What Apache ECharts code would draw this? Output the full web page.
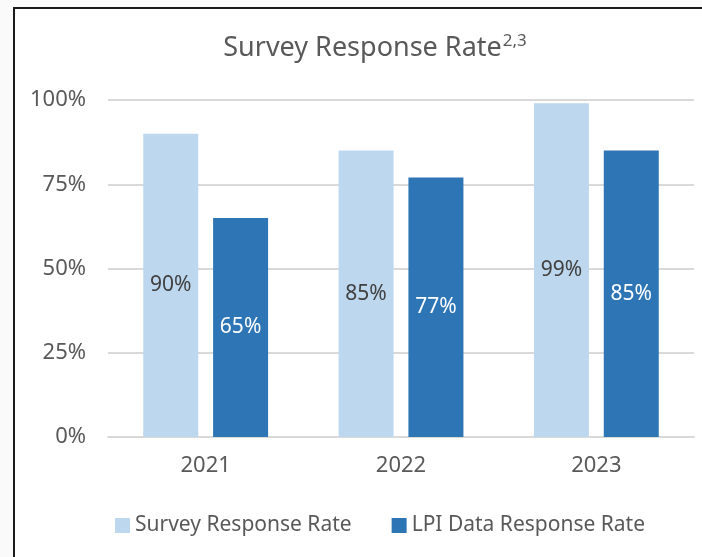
<!DOCTYPE html>
<html>
<head>
<meta charset="utf-8">
<script src="https://cdn.jsdelivr.net/npm/echarts@6/dist/echarts.min.js"></script>
<style>
  html, body { margin: 0; padding: 0; background: #fafafa; }
  .frame {
    position: absolute; left: 13px; top: 7px; width: 700px; height: 560px;
    background: #fff; border-left: 2px solid #1a1a1a; border-top: 2px solid #1a1a1a;
  }
  #chart { position: absolute; left: 0; top: 0; width: 702px; height: 557px; }
</style>
</head>
<body>
<div class="frame"></div>
<div id="chart"></div>
<script>
// data
const years = ['2021', '2022', '2023'];
const surveyRate = [90, 85, 99];
const lpiRate = [65, 77, 85];
const seriesNames = ['Survey Response Rate', 'LPI Data Response Rate'];

const font = 'Noto Sans';
const textColor = '#595959';

const chart = echarts.init(document.getElementById('chart'));

chart.setOption({
  backgroundColor: 'transparent',
  textStyle: { fontFamily: font },
  title: {
    text: '{a|Survey Response Rate}{b|2,3}',
    left: 370,
    textAlign: 'center',
    top: 28,
    textStyle: {
      rich: {
        a: { fontFamily: font, fontSize: 27, fontWeight: 'normal', color: textColor },
        b: { fontFamily: font, fontSize: 17, fontWeight: 'normal', color: textColor, padding: [0, 0, 13, 1] },
      },
    },
  },
  legend: {
    data: seriesNames,
    left: 110,
    top: 510,
    itemWidth: 15,
    itemHeight: 15,
    itemGap: 40,
    icon: 'rect',
    textStyle: { fontFamily: font, fontSize: 21, color: textColor },
  },
  grid: { left: 108, right: 8, top: 100, bottom: 120 },
  xAxis: {
    type: 'category',
    data: years,
    axisLine: { lineStyle: { color: '#d9d9d9', width: 2 } },
    axisTick: { show: false },
    axisLabel: { fontFamily: font, fontSize: 22, color: textColor, margin: 18 },
  },
  yAxis: {
    type: 'value',
    min: 0,
    max: 100,
    interval: 25,
    axisLine: { show: false },
    axisTick: { show: false },
    splitLine: { lineStyle: { color: '#d9d9d9', width: 2 } },
    axisLabel: { fontFamily: font, fontSize: 22, color: textColor, margin: 22, formatter: '{value}%' },
  },
  series: [
    {
      name: seriesNames[0],
      type: 'bar',
      data: surveyRate,
      barWidth: 55,
      barGap: '27%',
      itemStyle: { color: '#bdd7ee' },
      label: { show: true, position: 'inside', formatter: '{c}%', fontFamily: font, fontSize: 21, color: '#404040' },
    },
    {
      name: seriesNames[1],
      type: 'bar',
      data: lpiRate,
      barWidth: 55,
      itemStyle: { color: '#2e75b6' },
      label: { show: true, position: 'inside', formatter: '{c}%', fontFamily: font, fontSize: 21, color: '#ffffff' },
    },
  ],
});
</script>
</body>
</html>
